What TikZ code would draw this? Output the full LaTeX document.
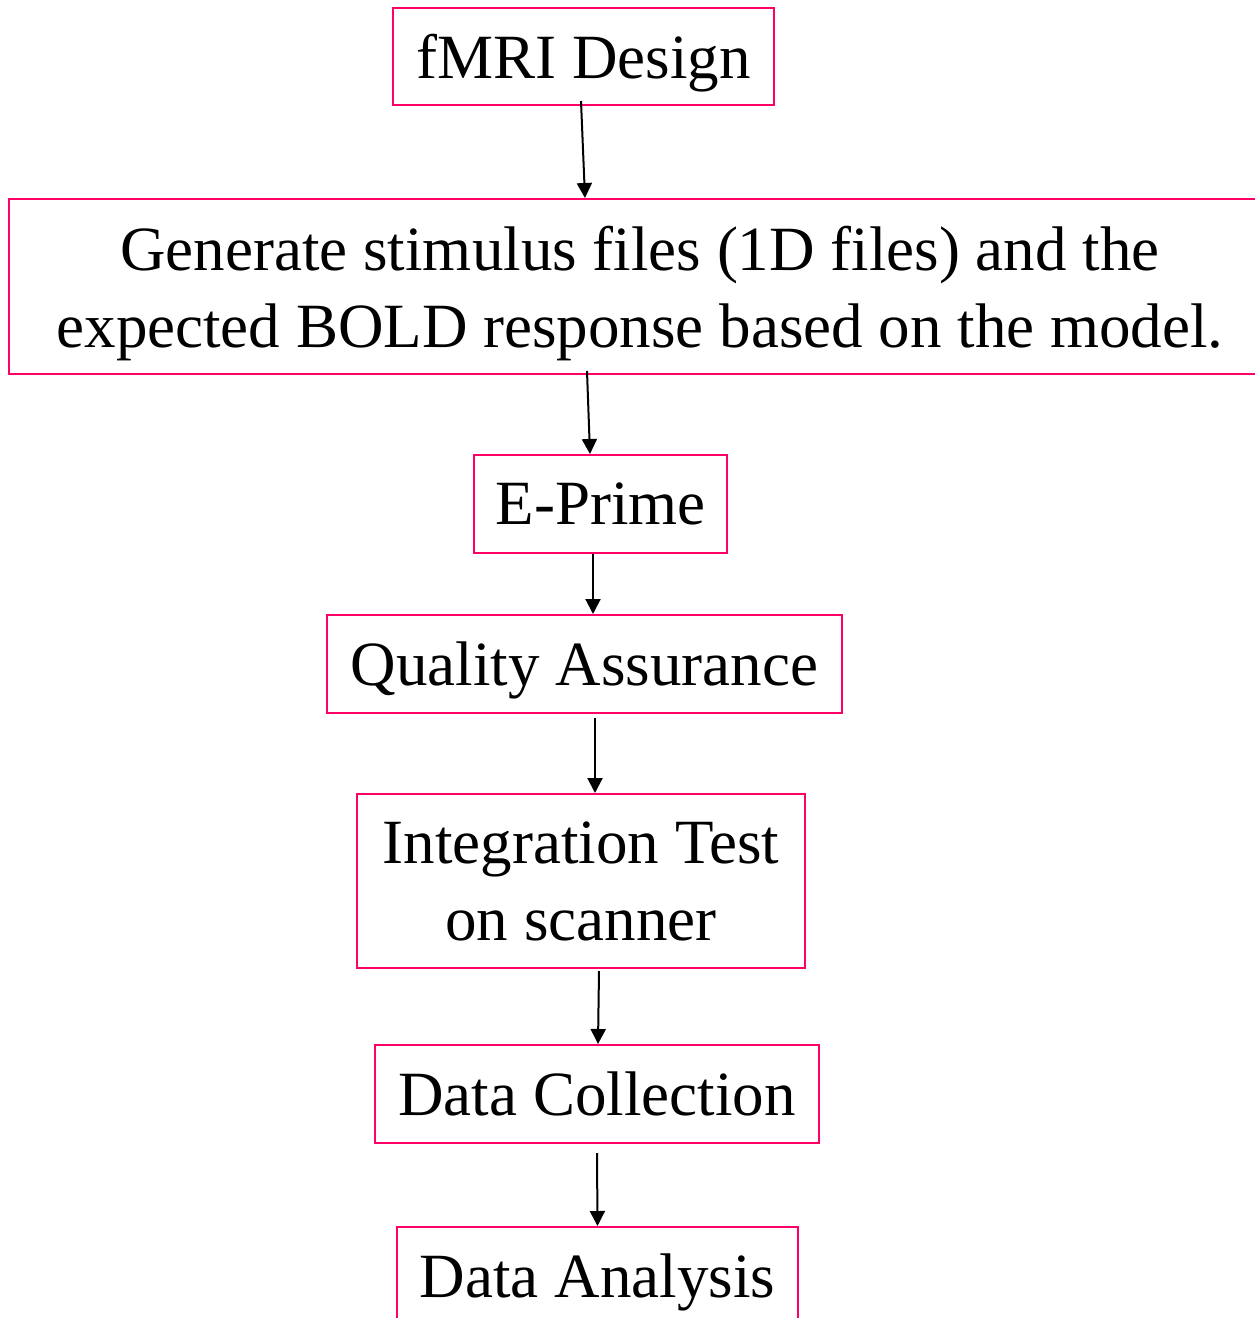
\documentclass[tikz,border=0pt]{standalone}
\usepackage{fontspec}
\setmainfont{Liberation Serif}
\usetikzlibrary{arrows.meta}
\definecolor{boxpink}{HTML}{FF0066}
\begin{document}
\begin{tikzpicture}[x=1pt,y=-1pt,
    stepbox/.style={draw=boxpink,line width=2pt,align=center,inner sep=0pt,
      font=\fontsize{63}{77}\selectfont,text depth=0pt},
    flow/.style={-{Triangle[width=15pt,length=15pt]},line width=2pt}]
  \clip (0,0) rectangle (1255,1318);

  % the steps, top to bottom
  \node[stepbox,minimum width=381,minimum height=97] (design) at (583.5,56.5) {fMRI Design};
  \node[stepbox,minimum width=1262,minimum height=175] (gen) at (640,286.5)
    {Generate stimulus files (1D files) and the\\expected BOLD response based on the model.};
  \node[stepbox,minimum width=253,minimum height=98] (eprime) at (600.5,504) {E-Prime};
  \node[stepbox,minimum width=515,minimum height=98] (qa) at (584.5,664) {Quality Assurance};
  \node[stepbox,minimum width=448,minimum height=174] (integ) at (581,881)
    {Integration Test\\on scanner};
  \node[stepbox,minimum width=444,minimum height=98] (collect) at (597,1094) {Data Collection};
  \node[stepbox,minimum width=401,minimum height=98] (analysis) at (597.5,1276) {Data Analysis};

  % arrows between the steps
  \draw[flow] ([xshift=-2.5pt,yshift=5pt]design.south) -- ([xshift=-55pt]gen.north);
  \draw[flow] ([xshift=-53pt,yshift=4pt]gen.south) -- ([xshift=-10.5pt]eprime.north);
  \draw[flow] ([xshift=-7.5pt]eprime.south) -- ([xshift=8.5pt]qa.north);
  \draw[flow] ([xshift=10.5pt,yshift=-4pt]qa.south) -- ([xshift=14pt]integ.north);
  \draw[flow] ([xshift=18pt,yshift=-2pt]integ.south) -- ([xshift=1pt]collect.north);
  \draw[flow] ([yshift=-9pt]collect.south) -- (analysis.north);
\end{tikzpicture}
\end{document}
